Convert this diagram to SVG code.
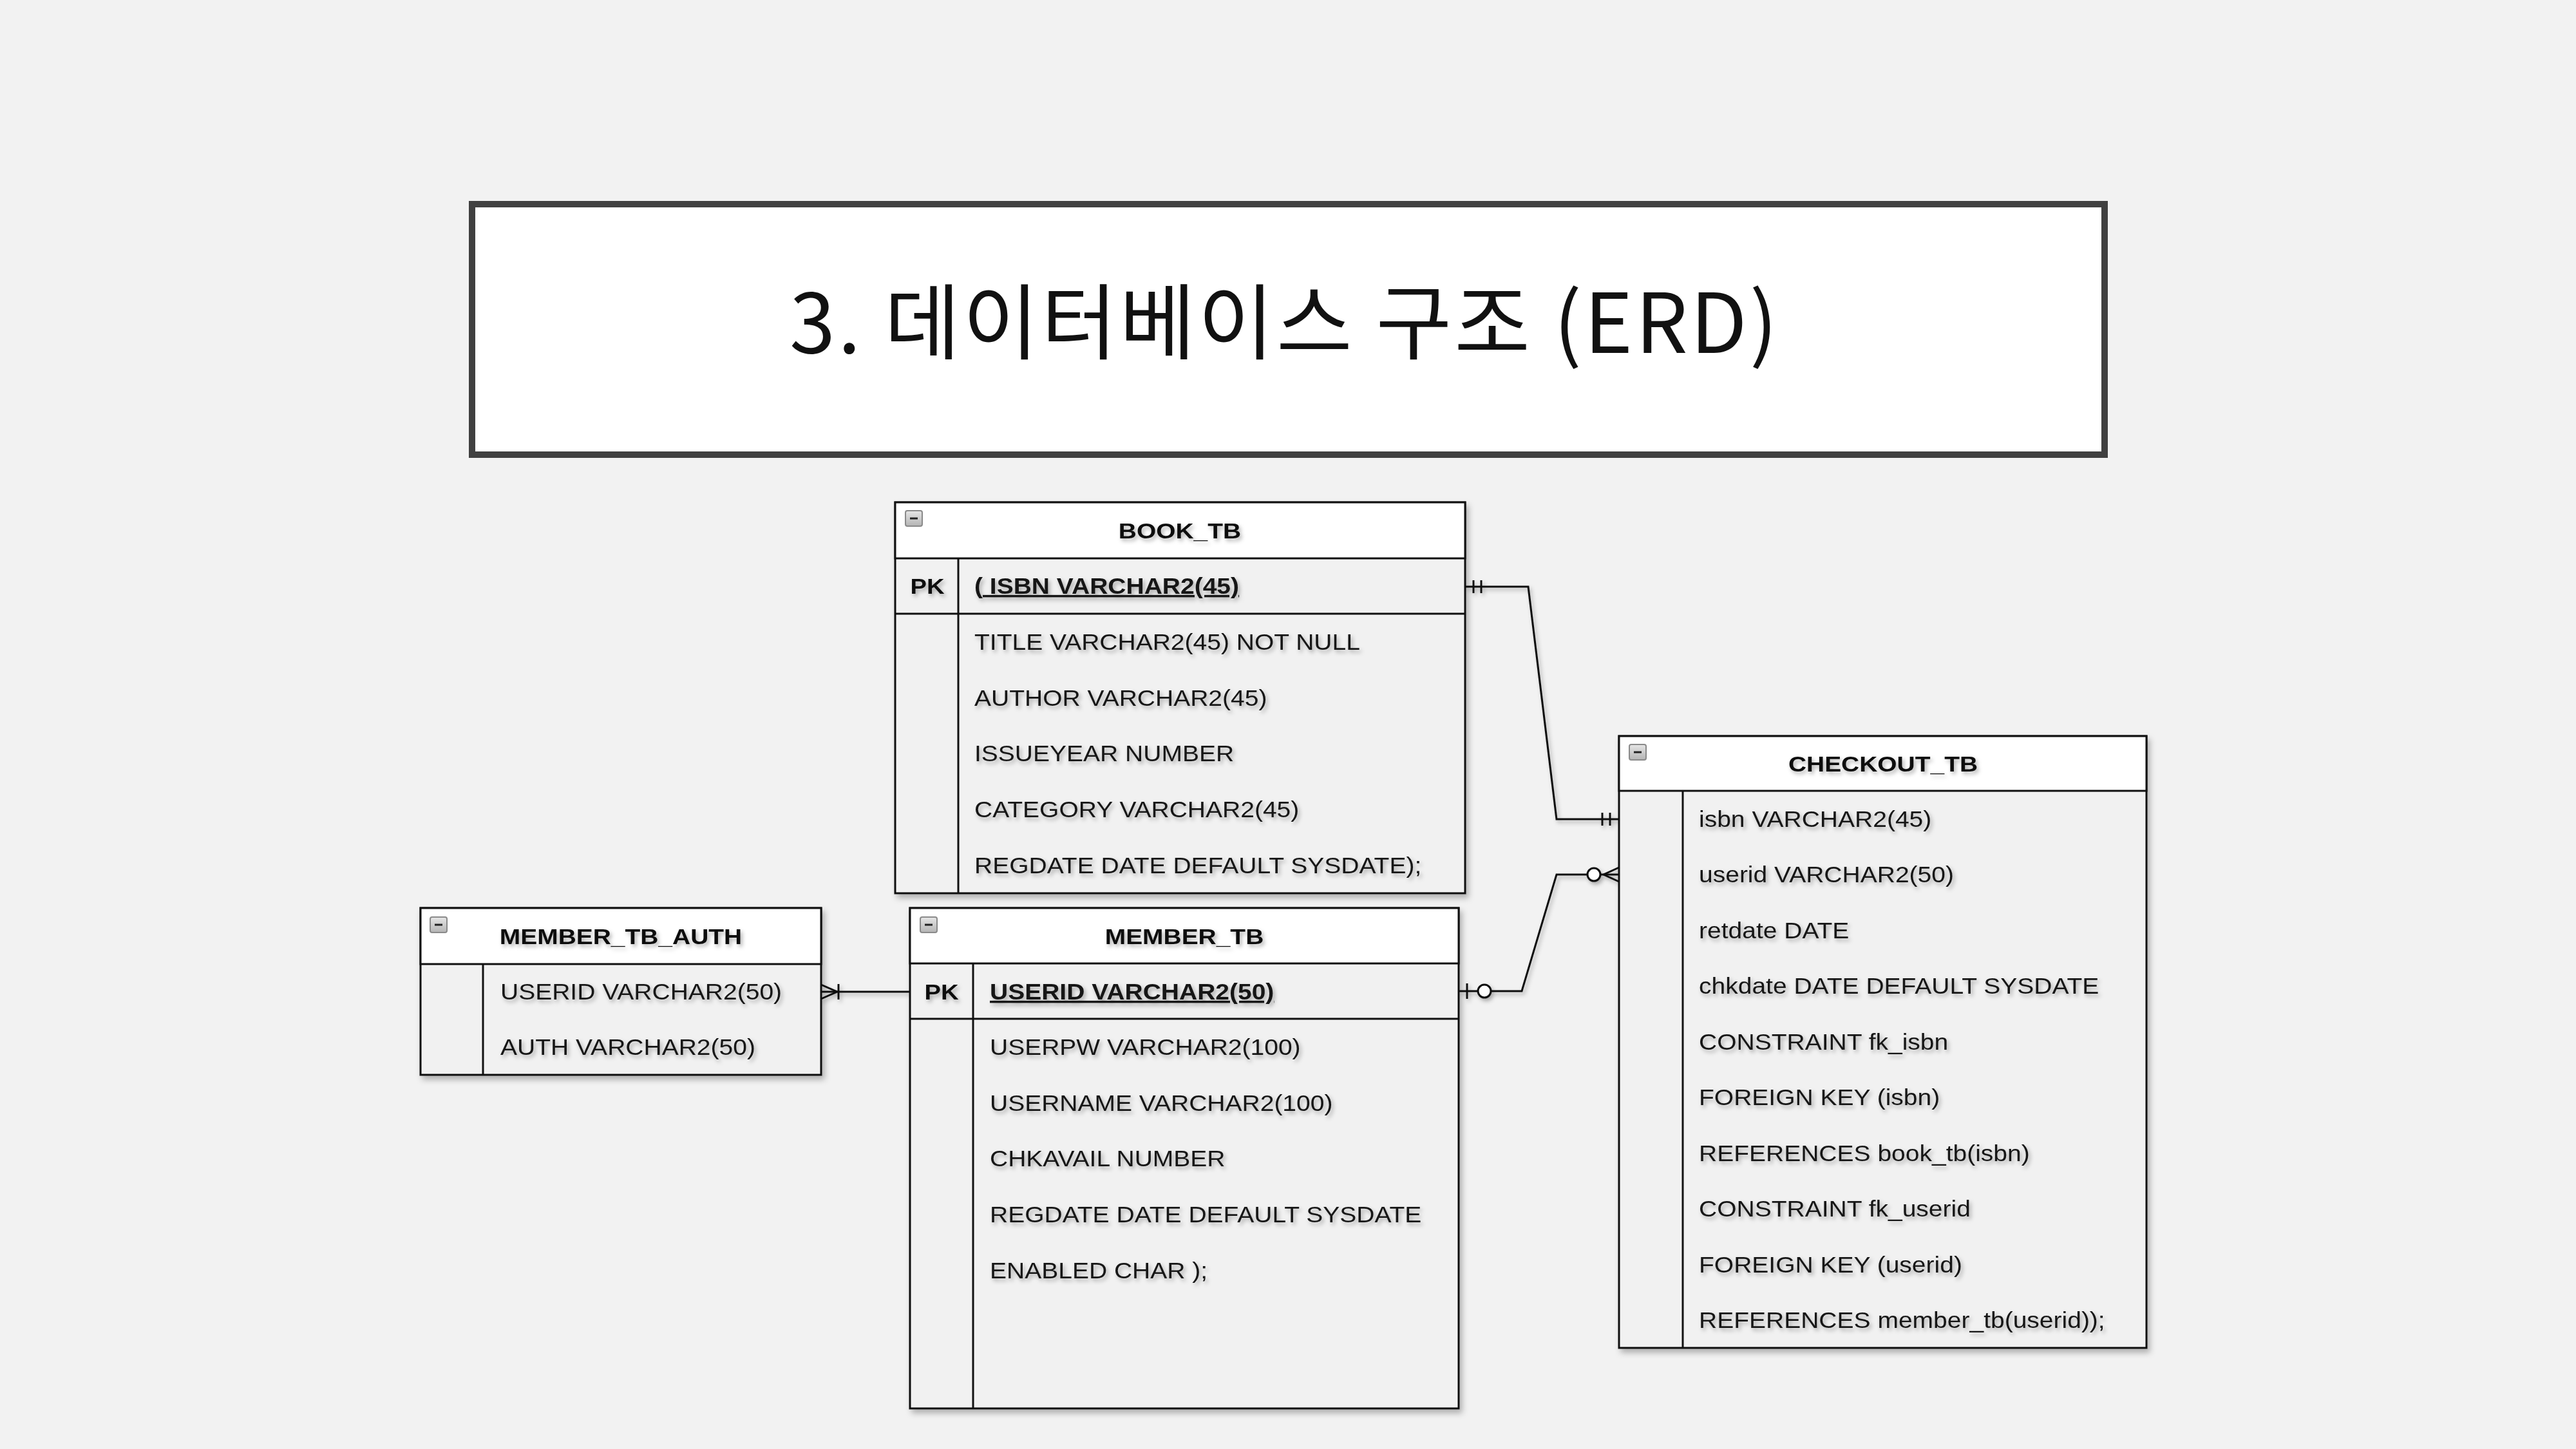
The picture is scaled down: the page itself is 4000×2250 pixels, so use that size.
<svg xmlns="http://www.w3.org/2000/svg" xmlns:xlink="http://www.w3.org/1999/xlink" width="4000" height="2250" viewBox="0 0 4000 2250">
  <defs>
    <style>
      .tbl{fill:#f1f1f1;stroke:#111;stroke-width:3}
      .hdr{fill:#ffffff;stroke:#111;stroke-width:3}
      .ln{stroke:#111;stroke-width:3;fill:none}
      .cn{stroke:#111;stroke-width:3;fill:none;stroke-linejoin:miter}
      .dot{fill:#ffffff;stroke:#111;stroke-width:3}
      .h{font-family:"Liberation Sans",Arial,Helvetica,sans-serif;font-weight:bold;font-size:33px;fill:#111;text-anchor:middle}
      .f{font-family:"Liberation Sans",Arial,Helvetica,sans-serif;font-size:35px;fill:#161616}
      .b{font-weight:bold}
      .pk{font-family:"Liberation Sans",Arial,Helvetica,sans-serif;font-weight:bold;font-size:33px;fill:#111;text-anchor:middle}
      .title{font-family:"Noto Sans CJK KR","Noto Sans",sans-serif;font-size:128px;letter-spacing:4px;fill:#111;text-anchor:middle}
    </style>
    <filter id="bs" x="-5%" y="-5%" width="115%" height="115%">
      <feDropShadow dx="4" dy="6" stdDeviation="5" flood-color="#000" flood-opacity="0.28"/>
    </filter>
    <filter id="ts" x="-5%" y="-20%" width="115%" height="160%">
      <feDropShadow dx="3" dy="4" stdDeviation="3" flood-color="#000" flood-opacity="0.3"/>
    </filter>
    <filter id="ls" filterUnits="userSpaceOnUse" x="0" y="0" width="4000" height="2250">
      <feDropShadow dx="3" dy="4" stdDeviation="3" flood-color="#000" flood-opacity="0.3"/>
    </filter>
    <linearGradient id="btnFill" x1="0" y1="0" x2="0" y2="1">
      <stop offset="0" stop-color="#e6e6e6"/>
      <stop offset="1" stop-color="#b4b4b4"/>
    </linearGradient>
    <!-- collapse button shown in every table header -->
    <g id="collapse">
      <rect x="0" y="0" width="26" height="24" rx="3" fill="url(#btnFill)" stroke="#8a8a8a" stroke-width="2"/>
      <rect x="7" y="10.5" width="12" height="3" fill="#222"/>
    </g>
  </defs>

  <!-- page -->
  <rect x="0" y="0" width="4000" height="2250" fill="#f2f2f2"/>

  <!-- title banner -->
  <g id="title">
    <rect x="733" y="317" width="2535" height="389" fill="#ffffff" stroke="#404040" stroke-width="10"/>
    <text class="title" x="1995" y="548">3. 데이터베이스 구조 (ERD)</text>
  </g>

  <!-- relationships -->
  <g id="connectors" filter="url(#ls)">
    <!-- BOOK_TB.isbn  ||——||  CHECKOUT_TB.isbn -->
    <polyline class="cn" points="2275,911 2373,911 2417,1272 2514,1272"/>
    <line class="ln" x1="2288" y1="901" x2="2288" y2="921"/>
    <line class="ln" x1="2300" y1="901" x2="2300" y2="921"/>
    <line class="ln" x1="2488" y1="1262" x2="2488" y2="1282"/>
    <line class="ln" x1="2500" y1="1262" x2="2500" y2="1282"/>

    <!-- MEMBER_TB.userid  |o——o<  CHECKOUT_TB.userid -->
    <polyline class="cn" points="2265,1539 2363,1539 2417,1358 2491,1358"/>
    <line class="ln" x1="2278" y1="1527" x2="2278" y2="1551"/>
    <circle class="dot" cx="2305" cy="1539" r="10"/>
    <circle class="dot" cx="2475" cy="1358" r="10"/>
    <polyline class="ln" points="2514,1347 2490,1358 2514,1369"/>
    <line class="ln" x1="2490" y1="1358" x2="2514" y2="1358"/>

    <!-- MEMBER_TB.userid  ——|<  MEMBER_TB_AUTH.userid -->
    <line class="ln" x1="1413" y1="1540" x2="1275" y2="1540"/>
    <polyline class="ln" points="1275,1529 1300,1540 1275,1551"/>
    <line class="ln" x1="1302" y1="1528" x2="1302" y2="1552"/>
  </g>

  <!-- BOOK_TB -->
  <g id="book_tb">
    <rect class="tbl" x="1390" y="780" width="885" height="607" filter="url(#bs)"/>
    <rect class="hdr" x="1390" y="780" width="885" height="87"/>
    <line class="ln" x1="1390" y1="953" x2="2275" y2="953"/>
    <line class="ln" x1="1488" y1="867" x2="1488" y2="1387"/>
    <use xlink:href="#collapse" x="1406" y="793"/>
    <g filter="url(#ts)">
      <text class="h" x="1832" y="836" transform="matrix(1.18 0 0 1 -329.76 0)">BOOK_TB</text>
      <text class="pk" x="1440" y="922" transform="matrix(1.16 0 0 1 -230.4 0)">PK</text>
      <g transform="matrix(1.115 0 0 1 -174 0)">
        <text class="f b" x="1513" y="922">(<tspan text-decoration="underline"> ISBN VARCHAR2(45)</tspan></text>
        <text class="f" x="1513" y="1009">TITLE VARCHAR2(45) NOT NULL</text>
        <text class="f" x="1513" y="1096">AUTHOR VARCHAR2(45)</text>
        <text class="f" x="1513" y="1182">ISSUEYEAR NUMBER</text>
        <text class="f" x="1513" y="1269">CATEGORY VARCHAR2(45)</text>
        <text class="f" x="1513" y="1356">REGDATE DATE DEFAULT SYSDATE);</text>
      </g>
    </g>
  </g>

  <!-- MEMBER_TB_AUTH -->
  <g id="member_tb_auth">
    <rect class="tbl" x="653" y="1410" width="622" height="259" filter="url(#bs)"/>
    <rect class="hdr" x="653" y="1410" width="622" height="87"/>
    <line class="ln" x1="750" y1="1497" x2="750" y2="1669"/>
    <use xlink:href="#collapse" x="668" y="1424"/>
    <g filter="url(#ts)">
      <text class="h" x="964" y="1466" transform="matrix(1.18 0 0 1 -173.52 0)">MEMBER_TB_AUTH</text>
      <g transform="matrix(1.115 0 0 1 -89.36 0)">
        <text class="f" x="777" y="1552">USERID VARCHAR2(50)</text>
        <text class="f" x="777" y="1638">AUTH VARCHAR2(50)</text>
      </g>
    </g>
  </g>

  <!-- MEMBER_TB -->
  <g id="member_tb">
    <rect class="tbl" x="1413" y="1410" width="852" height="777" filter="url(#bs)"/>
    <rect class="hdr" x="1413" y="1410" width="852" height="86"/>
    <line class="ln" x1="1413" y1="1582" x2="2265" y2="1582"/>
    <line class="ln" x1="1511" y1="1496" x2="1511" y2="2187"/>
    <use xlink:href="#collapse" x="1429" y="1424"/>
    <g filter="url(#ts)">
      <text class="h" x="1839" y="1466" transform="matrix(1.18 0 0 1 -331.02 0)">MEMBER_TB</text>
      <text class="pk" x="1462" y="1552" transform="matrix(1.16 0 0 1 -233.92 0)">PK</text>
      <g transform="matrix(1.115 0 0 1 -176.76 0)">
        <text class="f b" x="1537" y="1552" text-decoration="underline">USERID VARCHAR2(50)</text>
        <text class="f" x="1537" y="1638">USERPW VARCHAR2(100)</text>
        <text class="f" x="1537" y="1725">USERNAME VARCHAR2(100)</text>
        <text class="f" x="1537" y="1811">CHKAVAIL NUMBER</text>
        <text class="f" x="1537" y="1898">REGDATE DATE DEFAULT SYSDATE</text>
        <text class="f" x="1537" y="1985">ENABLED CHAR );</text>
      </g>
    </g>
  </g>

  <!-- CHECKOUT_TB -->
  <g id="checkout_tb">
    <rect class="tbl" x="2514" y="1143" width="819" height="950" filter="url(#bs)"/>
    <rect class="hdr" x="2514" y="1143" width="819" height="85"/>
    <line class="ln" x1="2613" y1="1228" x2="2613" y2="2093"/>
    <use xlink:href="#collapse" x="2530" y="1156"/>
    <g filter="url(#ts)">
      <text class="h" x="2924" y="1198" transform="matrix(1.18 0 0 1 -526.32 0)">CHECKOUT_TB</text>
      <g transform="matrix(1.115 0 0 1 -303.37 0)">
        <text class="f" x="2638" y="1284">isbn VARCHAR2(45)</text>
        <text class="f" x="2638" y="1370">userid VARCHAR2(50)</text>
        <text class="f" x="2638" y="1457">retdate DATE</text>
        <text class="f" x="2638" y="1543">chkdate DATE DEFAULT SYSDATE</text>
        <text class="f" x="2638" y="1630">CONSTRAINT fk_isbn</text>
        <text class="f" x="2638" y="1716">FOREIGN KEY (isbn)</text>
        <text class="f" x="2638" y="1803">REFERENCES book_tb(isbn)</text>
        <text class="f" x="2638" y="1889">CONSTRAINT fk_userid</text>
        <text class="f" x="2638" y="1976">FOREIGN KEY (userid)</text>
        <text class="f" x="2638" y="2062">REFERENCES member_tb(userid));</text>
      </g>
    </g>
  </g>
</svg>
